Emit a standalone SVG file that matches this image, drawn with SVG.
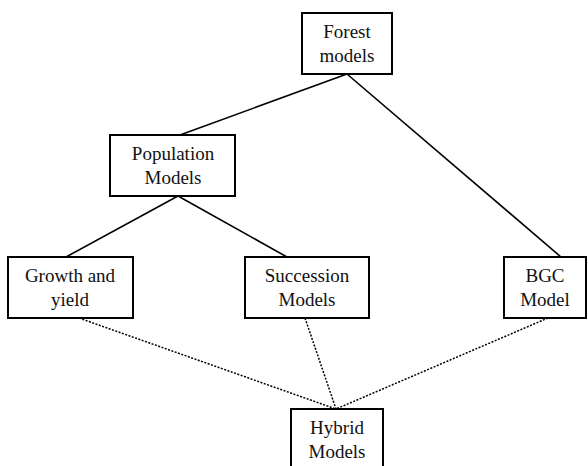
<svg xmlns="http://www.w3.org/2000/svg" width="588" height="466" viewBox="0 0 588 466">
<style>
rect{fill:#fff;stroke:#000;stroke-width:2}
text{font-family:'Liberation Serif', 'DejaVu Serif', serif;font-size:19px;fill:#111;text-anchor:middle}
.s{stroke:#000;stroke-width:1.6;fill:none}
.d{stroke:#000;stroke-width:1.5;fill:none;stroke-dasharray:2 1.5}
</style>
<rect x="0" y="0" width="588" height="466" style="fill:#fff;stroke:none"/>
<g id="connectors">
<line class="s" x1="347" y1="74" x2="180" y2="135"/>
<line class="s" x1="347" y1="74" x2="561" y2="257"/>
<line class="s" x1="178" y1="196" x2="66" y2="257"/>
<line class="s" x1="178" y1="196" x2="287" y2="257"/>
<line class="d" x1="79" y1="318" x2="336" y2="409"/>
<line class="d" x1="305" y1="318" x2="336" y2="409"/>
<line class="d" x1="548" y1="318" x2="336" y2="409"/>
</g>
<g id="forest"><rect x="302" y="13" width="90" height="61"/><text x="347" y="38">Forest</text><text x="347" y="62">models</text></g>
<g id="population"><rect x="110" y="135" width="125" height="61"/><text x="173" y="160">Population</text><text x="173" y="184">Models</text></g>
<g id="growth"><rect x="8" y="257" width="125" height="61"/><text x="70" y="282">Growth and</text><text x="70" y="306">yield</text></g>
<g id="succession"><rect x="245" y="257" width="124" height="61"/><text x="307" y="282">Succession</text><text x="307" y="306">Models</text></g>
<g id="bgc"><rect x="504" y="257" width="82" height="61"/><text x="545" y="282">BGC</text><text x="545" y="306">Model</text></g>
<g id="hybrid"><rect x="291" y="409" width="92" height="70"/><text x="337" y="434">Hybrid</text><text x="337" y="458">Models</text></g>
</svg>
